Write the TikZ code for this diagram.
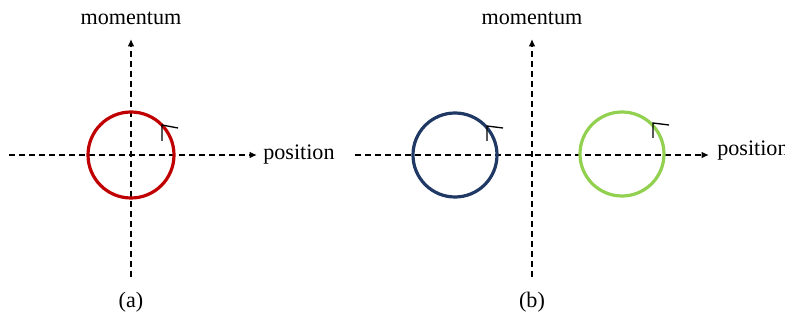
\documentclass[tikz,border=0pt]{standalone}
\usepackage{fontspec}
\setmainfont{Liberation Serif}
\usetikzlibrary{arrows.meta}
\usetikzlibrary{positioning}

\definecolor{ringred}{RGB}{192,0,0}
\definecolor{ringblue}{RGB}{31,56,100}
\definecolor{ringgreen}{RGB}{146,208,80}

\tikzset{
  axis/.style={black,line width=1.6pt,dash pattern=on 4.5pt off 3pt,-{Latex[length=5.5pt,width=5pt]}},
  ring/.style={line width=2.4pt},
  turn/.style={black,line width=1pt},
  lbl/.style={font=\fontsize{16.6}{19}\selectfont,text=black,inner sep=0pt}
}

\begin{document}
\begin{tikzpicture}[x=0.75pt,y=-0.75pt]
\useasboundingbox (0,0) rectangle (785,320);

% panel (a)
\coordinate (aL) at (9,155);
\coordinate (aR) at (257,155);
\coordinate (aB) at (131,277);
\coordinate (aT) at (131,39);
\draw[axis] (aL) -- (aR);
\draw[axis] (aB) -- (aT);
\node[lbl,anchor=west] (apos) at (263,155) {position};
\node[lbl,anchor=center] (amom) at (131,18) {momentum};
\node[lbl,anchor=center] (acap) at (131,302) {(a)};
\draw[ring,ringred] (131,155) circle (43);
\draw[turn] (162,141) -- (162,125) -- (178,128);

% panel (b)
\coordinate (bL) at (355,155);
\coordinate (bR) at (709,155);
\coordinate (bB) at (532,277);
\coordinate (bT) at (532,39);
\draw[axis] (bL) -- (bR);
\draw[axis] (bB) -- (bT);
\node[lbl,anchor=west] (bpos) at (717,151) {position};
\node[lbl,anchor=center] (bmom) at (532,18) {momentum};
\node[lbl,anchor=center] (bcap) at (532,302) {(b)};
\draw[ring,ringblue] (455,155) circle (42);
\draw[turn] (487,141) -- (487,126) -- (503,128);
\draw[ring,ringgreen] (622,154) circle (42);
\draw[turn] (653,138) -- (653,123) -- (669,125);

\end{tikzpicture}
\end{document}
